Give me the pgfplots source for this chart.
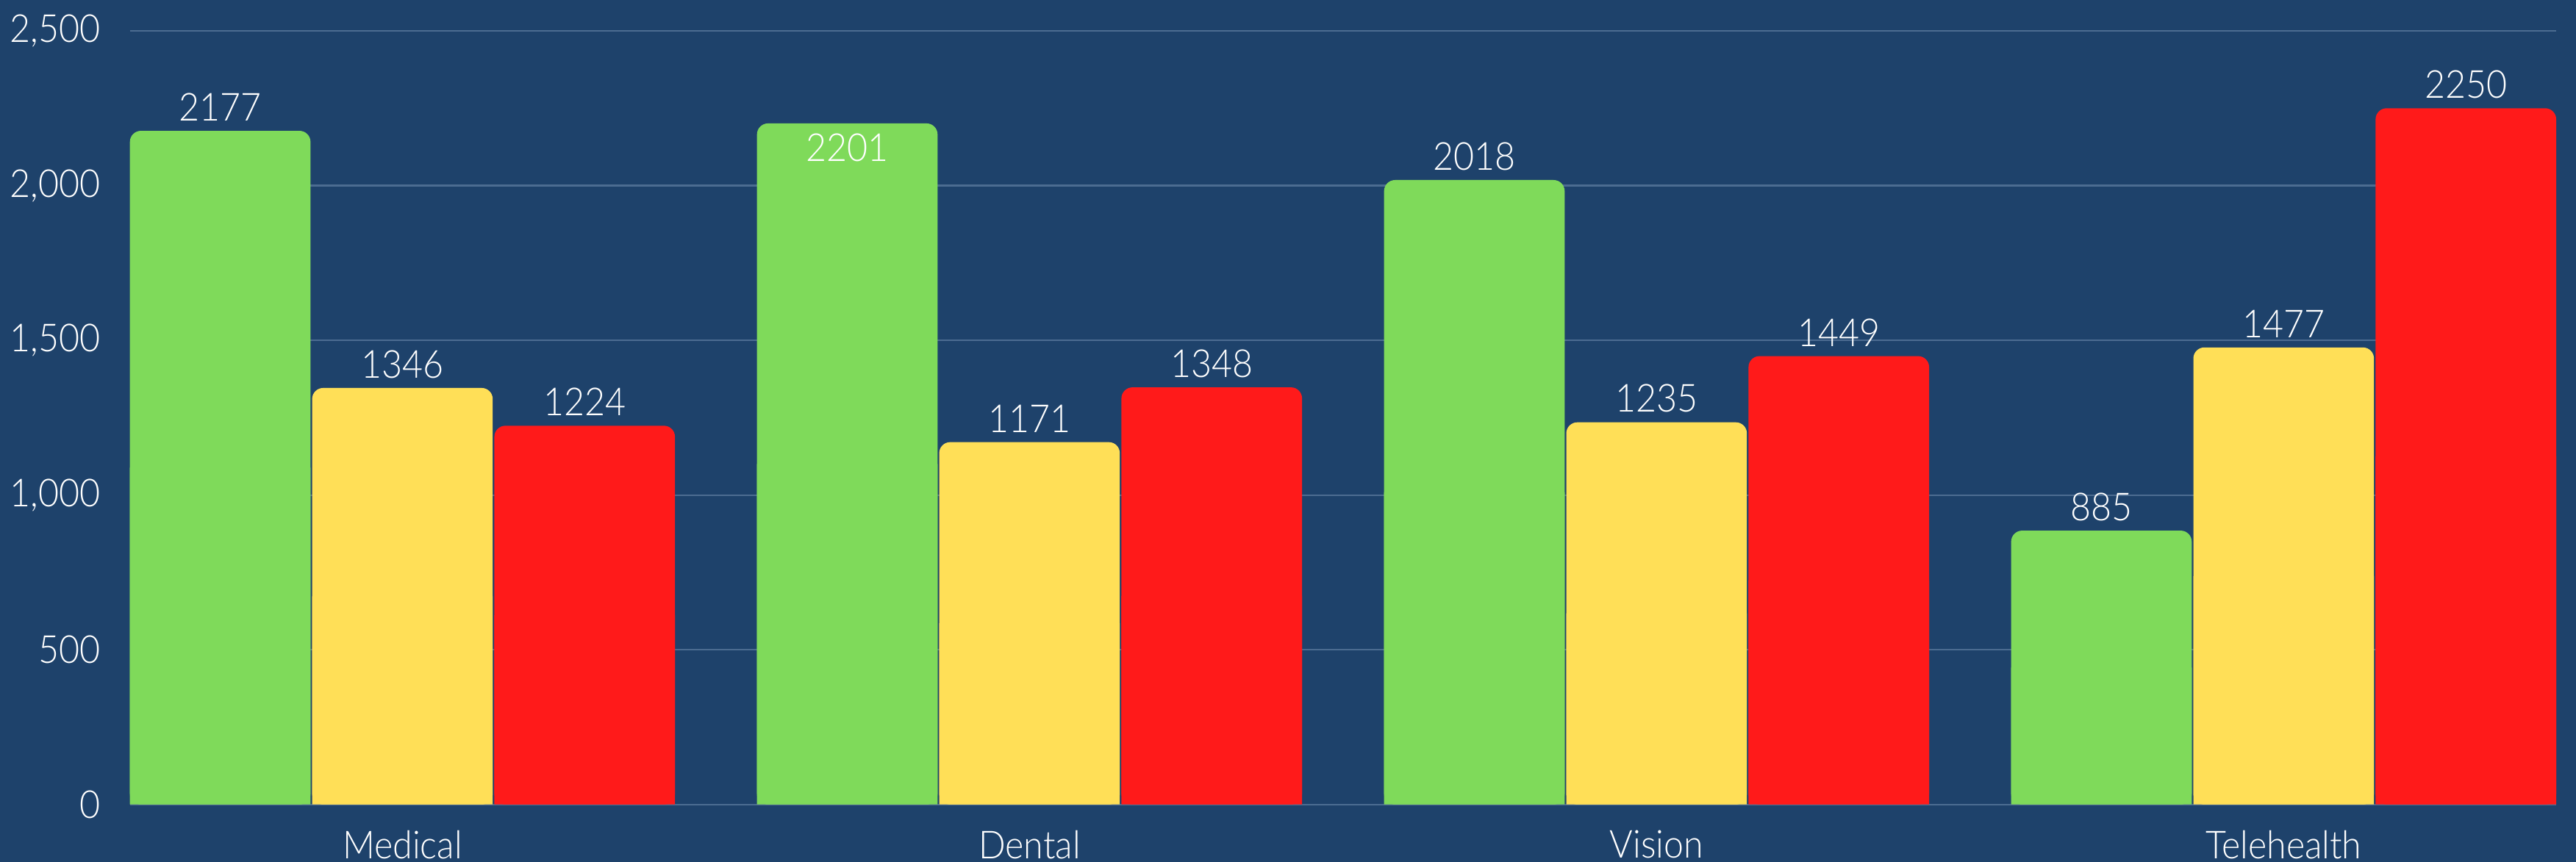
\documentclass[border=0pt]{standalone}
\usepackage{pgfplots}
\pgfplotsset{compat=1.18}
\usepackage{pgfplotstable}
\usepackage{fontspec}
\setmainfont{Lato}[UprightFont=* Light, FakeStretch=0.92]
\definecolor{bg}{HTML}{1E426B}
\definecolor{gridc}{HTML}{4C6C91}
\definecolor{cgreen}{HTML}{7FDA5A}
\definecolor{cyellow}{HTML}{FFDF57}
\definecolor{cred}{HTML}{FF1A1A}
\pgfplotstableread{
cat gv yv rv
0 2177 1346 1224
1 2201 1171 1348
2 2018 1235 1449
3 885 1477 2250
}\data
\newcommand{\lblfont}{\fontsize{10.5}{12}\selectfont}
\begin{document}
\begin{tikzpicture}
\fill[bg] (-35.3pt,-15.6pt) rectangle (664.7pt,218.7pt);
\begin{axis}[
  at={(0,0)}, anchor=south west,
  scale only axis, width=659.3pt, height=210.3pt,
  xmin=-0.4346, xmax=3.4346, ymin=0, ymax=2500,
  ytick={0,500,1000,1500,2000,2500},
  xtick={0,1,2,3},
  xticklabels={Medical,Dental,Vision,Telehealth},
  axis line style={draw=none},
  major tick length=0pt,
  ymajorgrids, grid style={color=gridc, line width=0.45pt},
  ticklabel style={text=white, font=\lblfont},
  yticklabel style={xshift=-4.5pt},
  xticklabel style={yshift=-3.5pt},
  /pgf/number format/assume math mode=true,
  /pgf/number format/1000 sep={,},
  clip=false,
  every node near coord/.append style={text=white, font=\lblfont, inner sep=2.5pt},
]
% green
\addplot[ybar, fill=cgreen, draw=none, bar width=0.288, bar shift=-0.2906, rounded corners=3pt,
  nodes near coords, point meta=explicit symbolic,
  every node near coord/.append style={xshift=-49.5pt}]
  table[x=cat, y=gv, meta=gv, skip coords between index={1}{2}]{\data};
\addplot[ybar, fill=cgreen, draw=none, bar width=0.288, bar shift=-0.2906, rounded corners=3pt,
  nodes near coords, point meta=explicit symbolic,
  every node near coord/.append style={anchor=north, xshift=-49.5pt}]
  table[x=cat, y=gv, meta=gv, skip coords between index={0}{1}, skip coords between index={2}{4}]{\data};
\addplot[ybar, fill=cgreen, draw=none, bar width=0.288, bar shift=-0.2906]
  table[x=cat, y expr=\thisrow{gv}/2]{\data};
% yellow
\addplot[ybar, fill=cyellow, draw=none, bar width=0.288, bar shift=0, rounded corners=3pt,
  nodes near coords, point meta=explicit symbolic]
  table[x=cat, y=yv, meta=yv]{\data};
\addplot[ybar, fill=cyellow, draw=none, bar width=0.288, bar shift=0]
  table[x=cat, y expr=\thisrow{yv}/2]{\data};
% red
\addplot[ybar, fill=cred, draw=none, bar width=0.288, bar shift=0.2906, rounded corners=3pt,
  nodes near coords, point meta=explicit symbolic,
  every node near coord/.append style={xshift=49.5pt}]
  table[x=cat, y=rv, meta=rv]{\data};
\addplot[ybar, fill=cred, draw=none, bar width=0.288, bar shift=0.2906]
  table[x=cat, y expr=\thisrow{rv}/2]{\data};
\end{axis}
\pgfresetboundingbox
\useasboundingbox (-35.3pt,-15.6pt) rectangle (664.7pt,218.7pt);
\end{tikzpicture}
\end{document}
